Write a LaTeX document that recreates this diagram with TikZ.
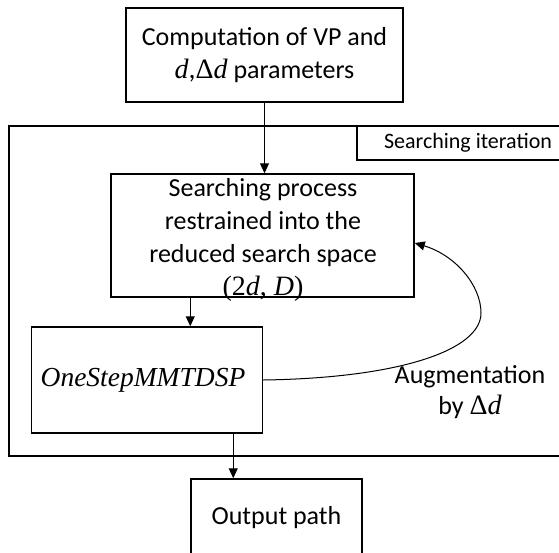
\documentclass[tikz,border=0pt]{standalone}
\usepackage{fontspec}
\setmainfont{Carlito}
\newfontfamily\mfont{Liberation Serif}
\newcommand{\mi}[1]{{\mfont\itshape #1}}
\newcommand{\mD}{{\mfont Δ}}
\usetikzlibrary{arrows.meta}
\begin{document}
\begin{tikzpicture}[x=1pt,y=-1pt,
  box/.style={draw, line width=1.5pt, inner sep=0pt, anchor=center},
  txt/.style={align=center, font=\fontsize{26}{33}\selectfont, inner sep=0pt},
  arr/.style={-{Triangle[length=10pt,width=9pt]}, line width=1pt}]
\useasboundingbox (0,0) rectangle (559,552);
\clip (0,0) rectangle (559,552);
\node[box, minimum width=570, minimum height=330] (frame) at (294,291) {};
\node[box, minimum width=222, minimum height=34, font=\fontsize{22}{26}\selectfont] (iter) at (468,143) {Searching iteration};
\node[box, txt, minimum width=277, minimum height=94] (top) at (264.5,55) {Computation of VP and\\ {\fontsize{28}{33}\selectfont\mi{d},\mD\mi{d}} parameters};
\node[box, minimum width=303, minimum height=123] (search) at (262.5,235.5) {};
\node[txt] (searchtxt) at (263,240) {Searching process\\ restrained into the\\ reduced search space\\ {\fontsize{28}{33}\selectfont\mfont(2\mi{d}, \mi{D})}};
\node[box, minimum width=231, minimum height=106, font=\fontsize{27.5}{30}\selectfont] (onestep) at (147,380) {\mi{OneStepMMTDSP}\hspace*{8pt}};
\node[box, txt, minimum width=171, minimum height=78] (output) at (276.5,518) {Output path};
\node[txt, font=\fontsize{26}{31}\selectfont] (aug) at (470,392) {Augmentation\\ by {\fontsize{28}{31}\selectfont\mD\mi{d}}};
\draw[arr] (top.south) -- (top.south |- search.north);
\draw[arr] ([xshift=80pt]search.south west) -- ([xshift=80pt]search.south west |- onestep.north);
\draw[arr] ([xshift=-30pt]onestep.south east) -- ([xshift=-30pt]onestep.south east |- output.north);
\draw[arr] (onestep.east) .. controls (400,378) and (481,350) .. (481,313) .. controls (481,285) and (455,255) .. ([yshift=-7.5pt]search.east);
\end{tikzpicture}
\end{document}
